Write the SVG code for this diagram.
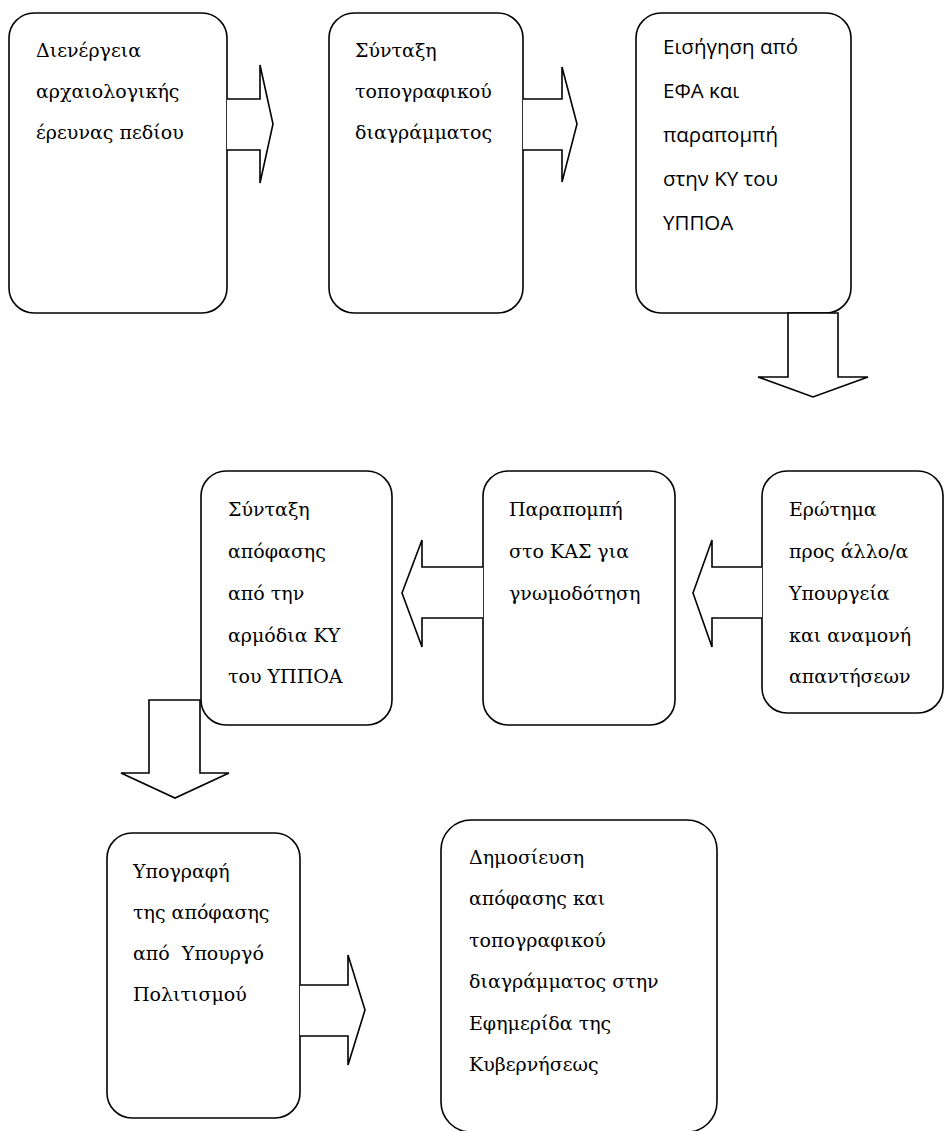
<svg xmlns="http://www.w3.org/2000/svg" width="944" height="1131" viewBox="0 0 944 1131">
<style>
.box{fill:#fff;stroke:#000;stroke-width:1.6}
.arr{fill:#fff;stroke:#000;stroke-width:1.6;stroke-linejoin:miter}
.t{font-family:"DejaVu Serif","Liberation Serif",serif;font-size:19px;fill:#000}
.s{font-family:"Open Sans","Noto Sans",sans-serif;font-size:20.5px;fill:#000}
</style>
<rect width="944" height="1131" fill="#fff"/>
<g id="n1"><rect class="box" x="9" y="13" width="218" height="300" rx="25"/>
<text class="t" x="36" y="57">Διενέργεια</text><text class="t" x="36" y="98">αρχαιολογικής</text><text class="t" x="36" y="139">έρευνας πεδίου</text></g>
<g id="n2"><rect class="box" x="329" y="13" width="194" height="300" rx="25"/>
<text class="t" x="355" y="57">Σύνταξη</text><text class="t" x="355" y="98">τοπογραφικού</text><text class="t" x="355" y="139">διαγράμματος</text></g>
<g id="n3"><rect class="box" x="636" y="13" width="215" height="300" rx="25"/>
<text class="s" x="663" y="54">Εισήγηση από</text><text class="s" x="663" y="98">ΕΦΑ και</text><text class="s" x="663" y="142">παραπομπή</text><text class="s" x="663" y="186">στην ΚΥ του</text><text class="s" x="663" y="230">ΥΠΠΟΑ</text></g>
<g id="n4"><rect class="box" x="201" y="471" width="191" height="254" rx="25"/>
<text class="t" x="228" y="516">Σύνταξη</text><text class="t" x="228" y="558">απόφασης</text><text class="t" x="228" y="600">από την</text><text class="t" x="228" y="642">αρμόδια ΚΥ</text><text class="t" x="228" y="683">του ΥΠΠΟΑ</text></g>
<g id="n5"><rect class="box" x="483" y="471" width="192" height="254" rx="25"/>
<text class="t" x="509" y="516">Παραπομπή</text><text class="t" x="509" y="558">στο ΚΑΣ για</text><text class="t" x="509" y="600">γνωμοδότηση</text></g>
<g id="n6"><rect class="box" x="762" y="471" width="181" height="242" rx="25"/>
<text class="t" x="789" y="516">Ερώτημα</text><text class="t" x="789" y="558">προς άλλο/α</text><text class="t" x="789" y="600">Υπουργεία</text><text class="t" x="789" y="642">και αναμονή</text><text class="t" x="789" y="683">απαντήσεων</text></g>
<g id="n7"><rect class="box" x="107" y="833" width="193" height="285" rx="25"/>
<text class="t" x="133" y="878">Υπογραφή</text><text class="t" x="133" y="919">της απόφασης</text><text class="t" x="133" y="960" style="white-space:pre">από  Υπουργό</text><text class="t" x="133" y="1001">Πολιτισμού</text></g>
<g id="n8"><rect class="box" x="441" y="820" width="276" height="312" rx="30"/>
<text class="t" x="469" y="864">Δημοσίευση</text><text class="t" x="469" y="905">απόφασης και</text><text class="t" x="469" y="947">τοπογραφικού</text><text class="t" x="469" y="988">διαγράμματος στην</text><text class="t" x="469" y="1030">Εφημερίδα της</text><text class="t" x="469" y="1071">Κυβερνήσεως</text></g>
<g id="connectors">
<path class="arr" d="M227,99 H260 V65 L273,124 L260,183 V150 H227"/>
<path class="arr" d="M523,99 H562 V67 L577,124 L562,182 V150 H523"/>
<path class="arr" d="M788,313 V377 H758 L813,397 L868,377 H838 V313 Z"/>
<path class="arr" d="M762,567 H712 V540 L693,593 L712,647 V618 H762"/>
<path class="arr" d="M483,567 H422 V540 L402,593 L422,647 V618 H483"/>
<path class="arr" d="M149,700 H200 V773 H229 L175,798 L121,773 H149 Z"/>
<path class="arr" d="M300,985 H348 V955 L365,1010 L348,1065 V1036 H300"/>
</g>
</svg>
